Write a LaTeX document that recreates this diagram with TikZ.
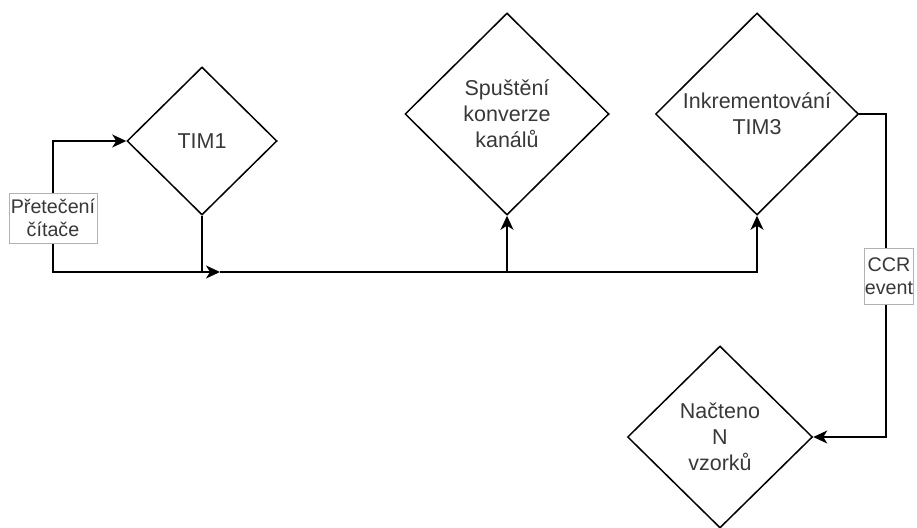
\documentclass[tikz,border=0pt]{standalone}
\usepackage{fontspec}
\setmainfont{Liberation Sans}
\usetikzlibrary{shapes.geometric,arrows.meta}
\definecolor{txt}{rgb}{0.22,0.22,0.22}
\tikzset{
  diam/.style={shape=diamond, draw=black, line width=1.5pt, inner sep=0pt, aspect=1,
    align=center, text=txt, font=\fontsize{21.5}{26}\selectfont},
  conn/.style={draw=black, line width=1.5pt},
  arr/.style={conn, -{Stealth[length=14pt, width=13pt, inset=4pt]}},
  lbl/.style={draw=black!30, line width=0.6pt, fill=white, align=center, text=txt,
    font=\fontsize{19.7}{23.3}\selectfont, inner xsep=2pt, inner ysep=2pt}
}
\begin{document}
\begin{tikzpicture}[x=1pt,y=-1pt]
\useasboundingbox (0,0) rectangle (917,527);
\node[diam, minimum width=150pt, minimum height=148pt] (tim1) at (202,141) {TIM1};
\node[diam, minimum width=204pt, minimum height=202pt] (spu) at (507,114) {Spuštění\\konverze\\kanálů};
\node[diam, minimum width=203pt, minimum height=202pt] (ink) at (757,114) {Inkrementování\\TIM3};
\node[diam, minimum width=185pt, minimum height=182pt] (nac) at (720,437) {Načteno\\N\\vzorků};
\coordinate (lp) at (53,272);
\coordinate (j) at (220,272);
\coordinate (cr) at (886,114);
% loop back to TIM1
\draw[arr] (tim1.south) |- (lp) |- (tim1.west);
\node[lbl, minimum width=88pt, minimum height=50pt] (pl) at (53,218) {Přetečení\\čítače};
% to the bus
\draw[arr] (tim1.south) |- (j);
\draw[arr] (j) -| (spu.south);
\draw[arr] (j) -| (ink.south);
% CCR event
\draw[arr] (ink.east) -- (cr) |- (nac.east);
\node[lbl, inner xsep=0.5pt, minimum width=48pt, minimum height=56pt] (ccr) at (889,276) {CCR\\event};
\end{tikzpicture}
\end{document}
